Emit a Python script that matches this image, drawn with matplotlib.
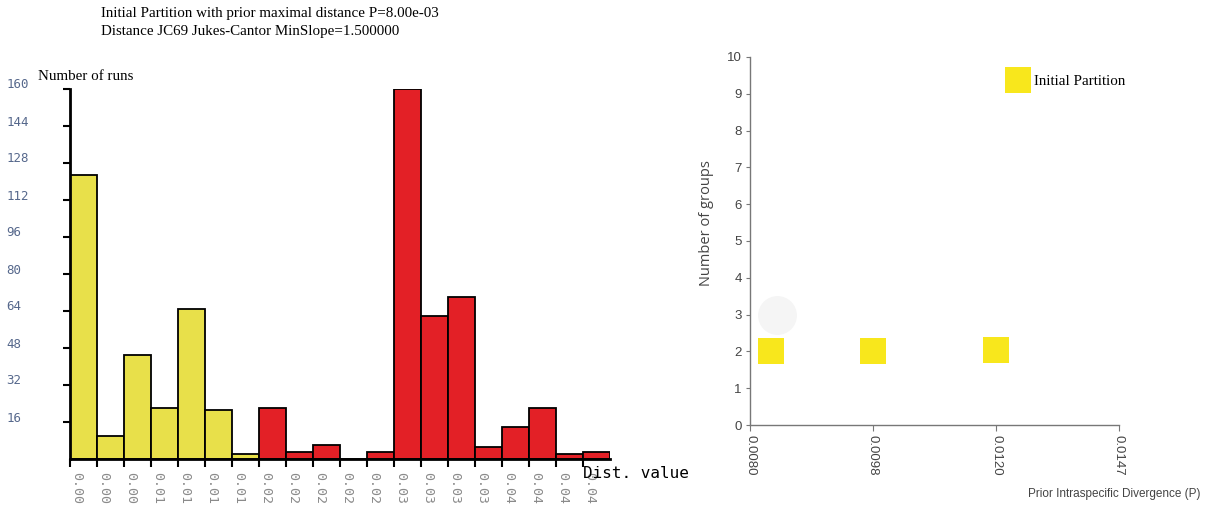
import numpy as np
import matplotlib
matplotlib.use("Agg")
import matplotlib.pyplot as plt
import matplotlib.transforms as mtransforms
from matplotlib.lines import Line2D

# ---------------- data ----------------
dist_labels = ["0.00", "0.00", "0.00", "0.01", "0.01", "0.01", "0.01",
               "0.02", "0.02", "0.02", "0.02", "0.02",
               "0.03", "0.03", "0.03", "0.03",
               "0.04", "0.04", "0.04", "0.04"]
runs = [123, 10, 45, 22, 65, 21, 2, 22, 3, 6, 0, 3, 160, 62, 70, 5, 14, 22, 2, 3]
bar_group = ["y"] * 7 + ["r"] * 13

y_ticks_left = [16, 32, 48, 64, 80, 96, 112, 128, 144, 160]

p_ticks = [0.0080, 0.0098, 0.0120, 0.0147]
p_tick_labels = ["0.0080", "0.0098", "0.0120", "0.0147"]
part_p = [0.0083, 0.0098, 0.0120]
part_groups = [2.0, 2.0, 2.05]
ghost_p = [0.0084]
ghost_groups = [3.0]

title_lines = ["Initial Partition with prior maximal distance P=8.00e-03",
               "Distance JC69 Jukes-Cantor MinSlope=1.500000"]

# ---------------- figure ----------------
W, H = 1213, 507
fig = plt.figure(figsize=(W / 100, H / 100), dpi=100)

def px_ax(x0, x1, ytop, ybot):
    return [x0 / W, 1 - ybot / H, (x1 - x0) / W, (ybot - ytop) / H]

serif = ["Liberation Serif", "DejaVu Serif"]
mono = ["DejaVu Sans Mono"]
narrow = ["Liberation Sans Narrow", "Liberation Sans", "DejaVu Sans"]

YEL = "#e8e04a"
RED = "#e32026"

# ---------- left histogram ----------
axL = fig.add_axes(px_ax(70, 610, 89, 459))
n = len(runs)
xs = np.arange(n)
colors = [YEL if g == "y" else RED for g in bar_group]
axL.bar(xs, runs, width=1.0, align="edge", color=colors,
        edgecolor="black", linewidth=1.3)
axL.set_xlim(0, n)
axL.set_ylim(0, 160)
for s in ["top", "right"]:
    axL.spines[s].set_visible(False)
axL.spines["left"].set_linewidth(2)
axL.spines["bottom"].set_linewidth(2)
axL.set_yticks(y_ticks_left)
axL.set_yticklabels([str(v) for v in y_ticks_left], family=mono, fontsize=9,
                    color="#56688c", ha="left", va="center")
axL.tick_params(axis="y", length=5, width=1.5, pad=41)
shift = mtransforms.ScaledTranslation(0, 4 / 100, fig.dpi_scale_trans)
for lab in axL.get_yticklabels():
    lab.set_transform(lab.get_transform() + shift)
axL.set_xticks(xs)
axL.set_xticklabels(dist_labels, rotation=-90, family=mono, fontsize=9.5,
                    color="#8a8a8a", va="top", ha="left")
axL.tick_params(axis="x", length=6, width=1.5, pad=3)
fig.text(38 / W, 1 - 76 / H, "Number of runs", family=serif, fontsize=10.8,
         va="center", ha="left")
fig.text(583 / W, 1 - 473 / H, "Dist. value", family=mono, fontsize=11.5,
         va="center", ha="left")
for i, t in enumerate(title_lines):
    fig.text(101 / W, 1 - (13 + 18 * i) / H, t, family=serif, fontsize=10.8,
             va="center", ha="left")

# ---------- right scatter ----------
axR = fig.add_axes(px_ax(750, 1119, 57, 425))
idx = np.arange(len(p_ticks), dtype=float)
fwd = lambda v: np.interp(v, p_ticks, idx)
inv = lambda v: np.interp(v, idx, p_ticks)
axR.set_xscale("function", functions=(fwd, inv))
axR.set_xlim(p_ticks[0], p_ticks[-1])
axR.set_ylim(0, 10)
axR.plot(ghost_p, ghost_groups, "o", markersize=28, color="#f5f5f5",
         markeredgewidth=0, zorder=1)
axR.plot(part_p, part_groups, "s", markersize=19, color="#f8e71c",
         markeredgewidth=0, linestyle="none", clip_on=False, zorder=3)
for s in ["top", "right"]:
    axR.spines[s].set_visible(False)
for s in ["left", "bottom"]:
    axR.spines[s].set_color("#777777")
    axR.spines[s].set_linewidth(1)
axR.set_yticks(range(0, 11))
axR.set_yticklabels([str(v) for v in range(0, 11)], family=narrow,
                    fontsize=9.5, color="#444444")
axR.tick_params(axis="y", length=3, color="#777777", pad=3)
axR.set_xticks(p_ticks)
axR.set_xticklabels(p_tick_labels, rotation=-90, family=narrow, fontsize=9.5,
                    color="#444444", va="top")
axR.xaxis.set_minor_locator(matplotlib.ticker.NullLocator())
axR.tick_params(axis="x", length=4, color="#777777", pad=3)
fig.text(707 / W, 1 - 223 / H, "Number of groups",
         family=["Open Sans", "DejaVu Sans"], fontsize=10.5, color="#444444",
         rotation=90, ha="center", va="center")
fig.text(1201 / W, 1 - 494 / H, "Prior Intraspecific Divergence (P)",
         family=narrow, fontsize=8.5, color="#444444", ha="right", va="center")
leg_handle = Line2D([], [], marker="s", markersize=19, color="#f8e71c",
                    markeredgewidth=0, linestyle="none")
axR.legend([leg_handle], ["Initial Partition"], frameon=False,
           loc="center left", bbox_to_anchor=(998 / W, 1 - 81 / H),
           bbox_transform=fig.transFigure, prop={"family": serif, "size": 10.8},
           handletextpad=0.3, borderpad=0, handlelength=1.6)

fig.savefig("out.png", dpi=100)
